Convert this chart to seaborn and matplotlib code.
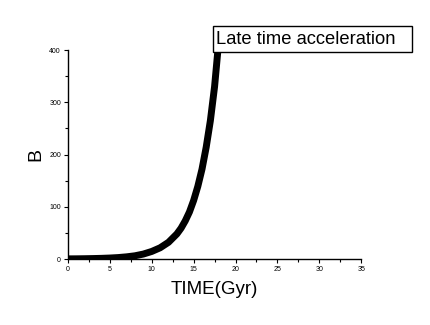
import numpy as np
import pandas as pd
import matplotlib
matplotlib.use("Agg")
import matplotlib.pyplot as plt
from matplotlib.patches import Rectangle
from matplotlib.ticker import MultipleLocator
import seaborn as sns

# values
time_gyr = [0, 1, 2, 3, 4, 5, 6, 7, 8, 9, 10, 11, 12, 13, 13.5, 14, 14.5,
            15, 15.5, 16, 16.5, 17, 17.5, 17.9]
b_vals = [0.3, 0.4, 0.6, 0.9, 1.3, 1.9, 2.8, 4.2, 6.2, 9.5, 14.5, 21.5, 32,
          48, 59, 73, 90, 112, 139, 172, 214, 265, 330, 400]

x_label = "TIME(Gyr)"
y_label = "B"
note = "Late time acceleration"

sns.set_style("ticks")
plt.rcParams["font.family"] = ["Liberation Sans", "DejaVu Sans"]
plt.rcParams["text.color"] = "black"
plt.rcParams["axes.labelcolor"] = "black"

df = pd.DataFrame({"t": time_gyr, "B": b_vals})

fig = plt.figure(figsize=(4.3, 3.25), dpi=100)
fig.patch.set_facecolor("white")
ax = fig.add_axes([0.158, 0.203, 0.682, 0.643])

sns.lineplot(data=df, x="t", y="B", color="black", linewidth=5, ax=ax,
             solid_capstyle="butt")

ax.set_xlim(0, 35)
ax.set_ylim(0, 400)
ax.xaxis.set_major_locator(MultipleLocator(5))
ax.xaxis.set_minor_locator(MultipleLocator(2.5))
ax.yaxis.set_major_locator(MultipleLocator(100))
ax.yaxis.set_minor_locator(MultipleLocator(50))
ax.tick_params(which="major", direction="out", length=3, width=0.8,
               labelsize=5, colors="black", pad=2)
ax.tick_params(which="minor", direction="out", length=2, width=0.8,
               colors="black")
sns.despine(ax=ax)
for s in ["left", "bottom"]:
    ax.spines[s].set_color("black")
    ax.spines[s].set_linewidth(1)

ax.set_xlabel(x_label, fontsize=13.5, labelpad=6)
ax.set_ylabel(y_label, fontsize=14)
ax.yaxis.set_label_coords(-0.082, 0.5)

# note box drawn in figure coordinates, over the curve
fig.patches.append(Rectangle((213 / 430, 1 - 52 / 325), 199 / 430, 26 / 325,
                             transform=fig.transFigure, facecolor="white",
                             edgecolor="black", linewidth=1, zorder=9))
fig.text(216 / 430, 1 - 39 / 325, note, fontsize=13.2, ha="left",
         va="center", zorder=10)

fig.savefig("out.png", dpi=100, facecolor="white")
